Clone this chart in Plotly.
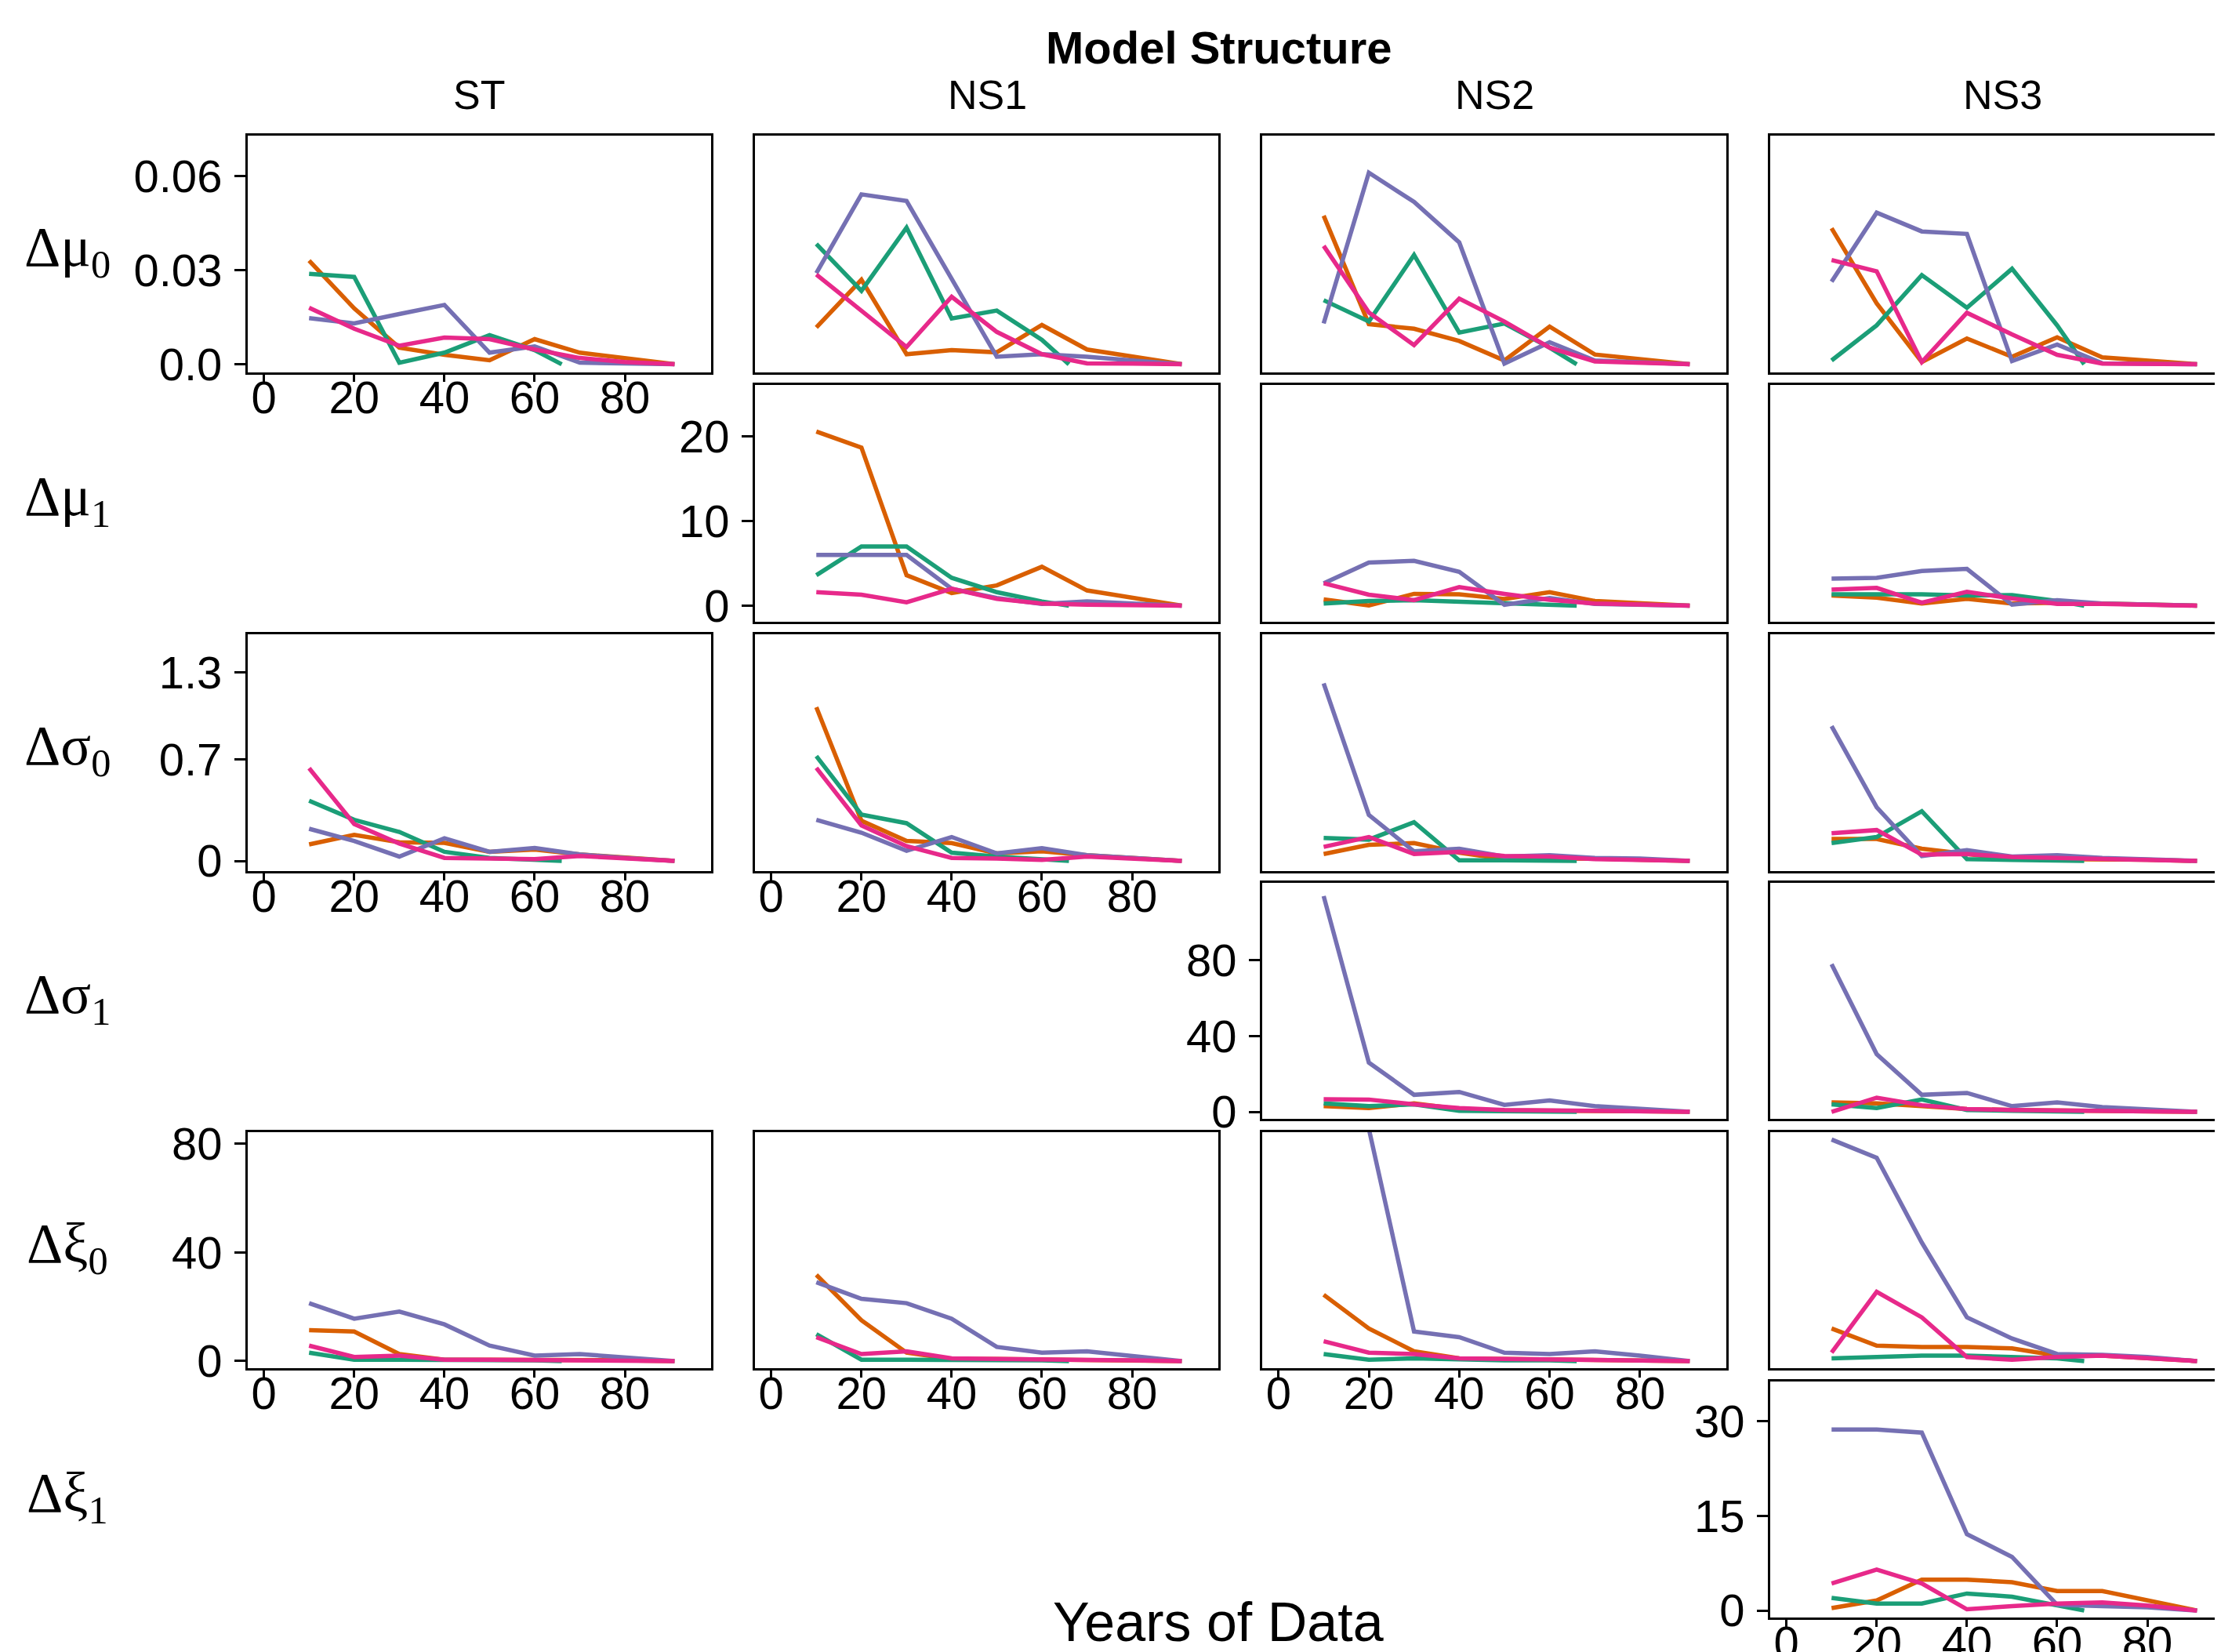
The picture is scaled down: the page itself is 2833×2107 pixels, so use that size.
import plotly.graph_objects as go

W, H = 2833, 2107

# ---------------- data ----------------
X_FULL = [10, 20, 30, 40, 50, 60, 70, 80, 91]     # orange, purple, magenta
X_SHORT = [10, 20, 30, 40, 50, 60, 66]            # green

SERIES = ["orange", "green", "purple", "magenta"]
COLORS = {"green": "#1B9E77", "orange": "#D95F02", "purple": "#7570B3", "magenta": "#E7298A"}

COLUMNS = ["ST", "NS1", "NS2", "NS3"]
ROW_LABELS = ["Δμ<sub>0</sub>", "Δμ<sub>1</sub>", "Δσ<sub>0</sub>",
              "Δσ<sub>1</sub>", "Δξ<sub>0</sub>", "Δξ<sub>1</sub>"]

X_TICKS = [0, 20, 40, 60, 80]
Y_TICKVALS = [[0, 0.03, 0.06], [0, 10, 20], [0, 0.7, 1.3], [0, 40, 80], [0, 40, 80], [0, 15, 30]]
Y_TICKTEXT = [["0.0", "0.03", "0.06"], ["0", "10", "20"], ["0", "0.7", "1.3"],
              ["0", "40", "80"], ["0", "40", "80"], ["0", "15", "30"]]
Y_RANGES = [[-0.0026, 0.0728], [-1.9, 26.1], [-0.07, 1.563], [-3.7, 121], [-2.6, 84.2], [-1.1, 36.3]]

# Row 1: delta mu0
mu0_ST = dict(orange=[0.0330, 0.0178, 0.0053, 0.0030, 0.0013, 0.0080, 0.0037, 0.0020, 0.0],
              green=[0.0288, 0.0278, 0.0005, 0.0037, 0.0093, 0.0045, 0.0],
              purple=[0.0147, 0.0130, 0.0160, 0.0189, 0.0037, 0.0057, 0.0005, 0.0003, 0.0],
              magenta=[0.0180, 0.0113, 0.0059, 0.0085, 0.0080, 0.0047, 0.0020, 0.0007, 0.0])
mu0_NS1 = dict(orange=[0.0117, 0.0269, 0.0032, 0.0045, 0.0038, 0.0125, 0.0047, 0.0024, 0.0],
               green=[0.0383, 0.0234, 0.0435, 0.0146, 0.0171, 0.0078, 0.0],
               purple=[0.0290, 0.0541, 0.0520, 0.0269, 0.0024, 0.0032, 0.0024, 0.0012, 0.0],
               magenta=[0.0286, 0.0171, 0.0055, 0.0215, 0.0103, 0.0032, 0.0003, 0.0002, 0.0])
mu0_NS2 = dict(orange=[0.0473, 0.0128, 0.0113, 0.0074, 0.0012, 0.0120, 0.0031, 0.0016, 0.0],
               green=[0.0204, 0.0136, 0.0348, 0.0101, 0.0130, 0.0053, 0.0],
               purple=[0.0130, 0.0610, 0.0517, 0.0388, 0.0002, 0.0070, 0.0012, 0.0005, 0.0],
               magenta=[0.0377, 0.0165, 0.0061, 0.0209, 0.0136, 0.0053, 0.0009, 0.0005, 0.0])
mu0_NS3 = dict(orange=[0.0433, 0.0194, 0.0007, 0.0082, 0.0024, 0.0086, 0.0022, 0.0012, 0.0],
               green=[0.0012, 0.0124, 0.0284, 0.0180, 0.0304, 0.0124, 0.0],
               purple=[0.0263, 0.0483, 0.0423, 0.0415, 0.0010, 0.0063, 0.0003, 0.0002, 0.0],
               magenta=[0.0332, 0.0296, 0.0007, 0.0164, 0.0095, 0.0030, 0.0002, 0.0002, 0.0])

# Row 2: delta mu1
mu1_NS1 = dict(orange=[20.6, 18.7, 3.6, 1.5, 2.4, 4.6, 1.8, 0.9, 0],
               green=[3.6, 7.0, 7.0, 3.3, 1.6, 0.5, 0],
               purple=[6.0, 6.0, 6.0, 2.0, 0.9, 0.2, 0.5, 0.25, 0],
               magenta=[1.6, 1.3, 0.4, 2.0, 0.8, 0.25, 0.12, 0.06, 0])
mu1_NS2 = dict(orange=[0.75, 0.03, 1.4, 1.35, 0.8, 1.6, 0.55, 0.3, 0],
               green=[0.25, 0.55, 0.65, 0.45, 0.2, 0.1, 0],
               purple=[2.65, 5.1, 5.3, 4.0, 0.1, 0.9, 0.2, 0.1, 0],
               magenta=[2.65, 1.3, 0.65, 2.2, 1.4, 0.7, 0.25, 0.12, 0])
mu1_NS3 = dict(orange=[1.2, 0.95, 0.25, 0.8, 0.25, 0.35, 0.25, 0.1, 0],
               green=[1.35, 1.35, 1.35, 1.2, 1.25, 0.55, 0],
               purple=[3.2, 3.3, 4.1, 4.35, 0.12, 0.65, 0.25, 0.12, 0],
               magenta=[1.9, 2.1, 0.35, 1.65, 0.85, 0.2, 0.2, 0.1, 0])

# Row 3: delta sigma0
sig0_ST = dict(orange=[0.114, 0.18, 0.129, 0.125, 0.063, 0.079, 0.045, 0.025, 0],
               green=[0.415, 0.284, 0.20, 0.063, 0.021, 0.0125, 0],
               purple=[0.222, 0.138, 0.030, 0.156, 0.063, 0.089, 0.045, 0.02, 0],
               magenta=[0.64, 0.254, 0.12, 0.021, 0.016, 0.0125, 0.034, 0.02, 0])
sig0_NS1 = dict(orange=[1.06, 0.277, 0.138, 0.123, 0.052, 0.066, 0.039, 0.021, 0],
                green=[0.723, 0.32, 0.26, 0.057, 0.030, 0.0125, 0],
                purple=[0.284, 0.195, 0.07, 0.165, 0.052, 0.088, 0.039, 0.021, 0],
                magenta=[0.642, 0.245, 0.102, 0.021, 0.016, 0.007, 0.03, 0.016, 0])
sig0_NS2 = dict(orange=[0.048, 0.111, 0.123, 0.057, 0.0125, 0.016, 0.016, 0.009, 0],
                green=[0.159, 0.147, 0.267, 0.004, 0.004, 0.004, 0],
                purple=[1.224, 0.317, 0.066, 0.084, 0.030, 0.039, 0.021, 0.016, 0],
                magenta=[0.097, 0.165, 0.048, 0.063, 0.034, 0.030, 0.0125, 0.009, 0])
sig0_NS3 = dict(orange=[0.152, 0.152, 0.084, 0.048, 0.0125, 0.0125, 0.0125, 0.009, 0],
                green=[0.123, 0.165, 0.343, 0.0125, 0.007, 0.004, 0],
                purple=[0.93, 0.37, 0.034, 0.075, 0.03, 0.039, 0.021, 0.0125, 0],
                magenta=[0.191, 0.213, 0.043, 0.048, 0.027, 0.021, 0.016, 0.009, 0])

# Row 4: delta sigma1
sig1_NS2 = dict(orange=[3, 2, 4.5, 1.5, 0.8, 0.8, 0.5, 0.3, 0],
                green=[4.5, 3, 4, 0.5, 0.3, 0.3, 0],
                purple=[114, 26, 9, 10.5, 3.7, 6, 3, 1.5, 0],
                magenta=[6.7, 6.5, 4, 2, 1, 0.8, 0.5, 0.3, 0])
sig1_NS3 = dict(orange=[5, 4.5, 3, 1.5, 1, 0.8, 0.5, 0.3, 0],
                green=[4, 2, 6.5, 1, 0.5, 0.3, 0],
                purple=[78, 30.5, 9, 10, 3, 5, 2.5, 1.2, 0],
                magenta=[0, 7.5, 3.5, 1.5, 1, 0.8, 0.5, 0.3, 0])

# Row 5: delta xi0
xi0_ST = dict(orange=[11.4, 10.9, 2.6, 0.5, 0.5, 0.5, 0.4, 0.3, 0],
              green=[3.1, 0.5, 0.5, 0.5, 0.3, 0.3, 0],
              purple=[21.3, 15.6, 18.2, 13.5, 5.7, 2, 2.6, 1.5, 0],
              magenta=[5.7, 1.5, 2, 0.5, 0.5, 0.4, 0.3, 0.2, 0])
xi0_NS1 = dict(orange=[31.7, 15, 3.1, 0.8, 0.8, 0.6, 0.5, 0.3, 0],
               green=[9.9, 0.5, 0.5, 0.5, 0.3, 0.3, 0],
               purple=[29, 22.9, 21.3, 15.6, 5.2, 3.1, 3.6, 2, 0],
               magenta=[8.8, 2.6, 3.6, 1, 0.8, 0.5, 0.4, 0.3, 0])
xi0_NS2 = dict(orange=[24.4, 12, 3.6, 1, 0.8, 0.6, 0.5, 0.3, 0],
               green=[2.6, 0.5, 1, 0.5, 0.3, 0.3, 0],
               purple=[160, 86, 10.9, 8.8, 3.1, 2.6, 3.6, 2, 0],
               magenta=[7.3, 3.1, 2.6, 1, 0.8, 0.6, 0.5, 0.3, 0])
xi0_NS3 = dict(orange=[12, 5.7, 5.2, 5.2, 4.7, 2, 2, 1, 0],
               green=[1, 1.5, 2, 2, 1.5, 1, 0],
               purple=[81.5, 74.8, 43.6, 16.1, 8.3, 2.6, 2.3, 1.5, 0],
               magenta=[3.1, 25.5, 16.1, 1.5, 0.5, 1.5, 2, 1, 0])

# Row 6: delta xi1
xi1_NS3 = dict(orange=[0.4, 1.6, 4.9, 4.9, 4.5, 3.1, 3.1, 1.6, 0],
               green=[2, 1.1, 1.1, 2.7, 2.2, 0.9, 0],
               purple=[28.7, 28.7, 28.2, 12.1, 8.5, 0.9, 0.7, 0.5, 0],
               magenta=[4.3, 6.5, 4.3, 0.2, 0.7, 1.1, 1.3, 0.8, 0])

PANELS = [  # (row, col, data)
    (0, 0, mu0_ST), (0, 1, mu0_NS1), (0, 2, mu0_NS2), (0, 3, mu0_NS3),
    (1, 1, mu1_NS1), (1, 2, mu1_NS2), (1, 3, mu1_NS3),
    (2, 0, sig0_ST), (2, 1, sig0_NS1), (2, 2, sig0_NS2), (2, 3, sig0_NS3),
    (3, 2, sig1_NS2), (3, 3, sig1_NS3),
    (4, 0, xi0_ST), (4, 1, xi0_NS1), (4, 2, xi0_NS2), (4, 3, xi0_NS3),
    (5, 3, xi1_NS3),
]

# ---------------- layout geometry (screen pixels) ----------------
OFF = 8  # page body margin
COL_PX = [(316, 907), (963, 1554), (1610, 2202), (2258, 2841)]
ROW_PX = [(173, 475), (491, 793), (809, 1111), (1126, 1427), (1444, 1745), (1762, 2063)]
X_RANGE = [-3.6, 99.1]
X_RANGE_CUT = [-3.6, -3.6 + (2841 - 2258) / 591 * 102.7]


def px_x(v):
    return (v - OFF) / W


def px_y(v):
    return 1 - (v - OFF) / H


FONT = "Liberation Sans, Arial, Helvetica, sans-serif"
SERIF = "Liberation Serif, Times New Roman, serif"
TICKFONT = dict(family=FONT, size=58, color="black")

present = {(r, c) for r, c, _ in PANELS}

fig = go.Figure()
layout = dict(width=W, height=H, margin=dict(l=0, r=0, t=0, b=0, pad=0), autosize=False,
              paper_bgcolor="white", plot_bgcolor="white", showlegend=False)

for k, (r, c, data) in enumerate(PANELS, start=1):
    xa = "x" if k == 1 else f"x{k}"
    ya = "y" if k == 1 else f"y{k}"
    for s in SERIES:
        xs = X_SHORT if s == "green" else X_FULL
        fig.add_trace(go.Scatter(x=xs, y=data[s], mode="lines", xaxis=xa, yaxis=ya,
                                 line=dict(color=COLORS[s], width=5.5), hoverinfo="skip"))
    x0, x1 = COL_PX[c]
    y0, y1 = ROW_PX[r]
    left_most = all((r, cc) not in present for cc in range(c))
    bottom_most = (r + 1, c) not in present
    cut = (c == 3)
    layout[f"xaxis{'' if k == 1 else k}"] = dict(
        domain=[px_x(x0), min(1.0, px_x(x1))], anchor=ya, range=X_RANGE_CUT if cut else X_RANGE,
        showgrid=False, zeroline=False, showline=True, linecolor="black", linewidth=3,
        mirror=True, ticks="outside" if bottom_most else "", ticklen=9, tickwidth=2.5,
        tickcolor="black", tickvals=X_TICKS, showticklabels=bottom_most,
        tickfont=TICKFONT, ticklabelstandoff=-30, automargin=False, fixedrange=True)
    layout[f"yaxis{'' if k == 1 else k}"] = dict(
        domain=[px_y(y1), px_y(y0)], anchor=xa, range=Y_RANGES[r],
        showgrid=False, zeroline=False, showline=True, linecolor="black", linewidth=3,
        mirror=not cut, ticks="outside" if left_most else "", ticklen=14, tickwidth=2.5,
        tickcolor="black", tickvals=Y_TICKVALS[r], ticktext=Y_TICKTEXT[r],
        showticklabels=left_most, tickfont=TICKFONT, ticklabelstandoff=4,
        automargin=False, fixedrange=True)

ann = []
ann.append(dict(text="<b>Model Structure</b>", x=px_x(1555), y=px_y(60), xref="paper", yref="paper",
                showarrow=False, font=dict(family=FONT, size=58, color="black"),
                xanchor="center", yanchor="middle"))
col_centers = [611, 1259, 1906, 2554]
for name, cx in zip(COLUMNS, col_centers):
    ann.append(dict(text=name, x=px_x(cx), y=px_y(121), xref="paper", yref="paper",
                    showarrow=False, font=dict(family=FONT, size=52, color="black"),
                    xanchor="center", yanchor="middle"))
for lab, (y0, y1) in zip(ROW_LABELS, ROW_PX):
    ann.append(dict(text=lab, x=px_x(86), y=px_y((y0 + y1) / 2 - 4), xref="paper", yref="paper",
                    showarrow=False, font=dict(family=SERIF, size=72, color="black"),
                    xanchor="center", yanchor="middle"))
ann.append(dict(text="Years of Data", x=px_x(1554), y=px_y(2069), xref="paper", yref="paper",
                showarrow=False, font=dict(family=FONT, size=70, color="black"),
                xanchor="center", yanchor="middle"))
layout["annotations"] = ann

fig.update_layout(**layout)
fig.write_html("out.html")
